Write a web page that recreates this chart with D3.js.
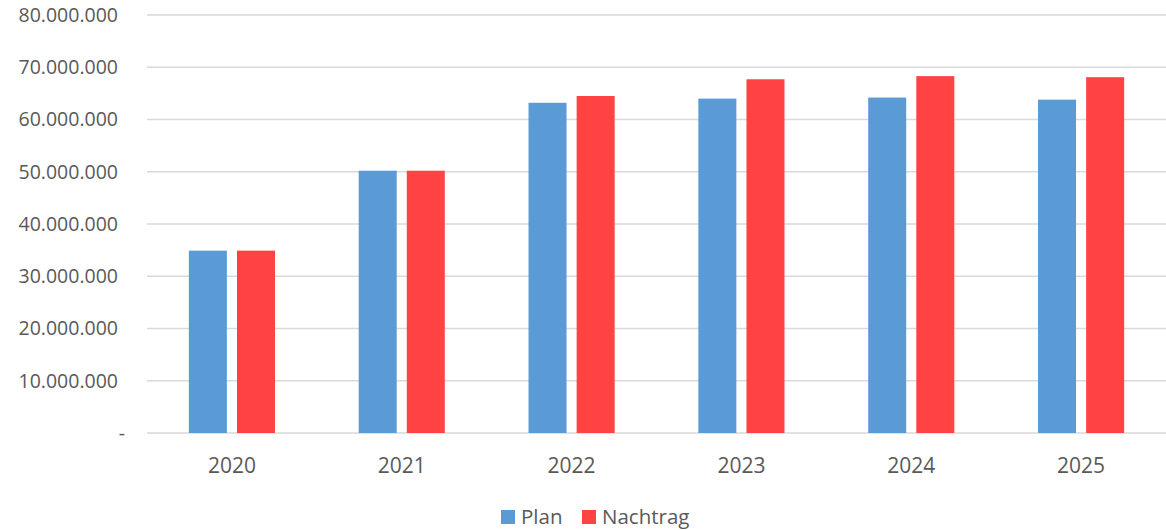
<!DOCTYPE html>
<html>
<head>
<meta charset="utf-8">
<script src="https://cdn.jsdelivr.net/npm/d3@7"></script>
<style>
  body { margin: 0; background: #fff; }
  text { font-family: "Open Sans", sans-serif; fill: #595959; }
</style>
</head>
<body>
<div id="chart"></div>
<script>
// data
const years = ["2020", "2021", "2022", "2023", "2024", "2025"];
const series = ["Plan", "Nachtrag"];
const plan = [34900000, 50200000, 63200000, 64000000, 64200000, 63800000];
const nachtrag = [34900000, 50200000, 64500000, 67700000, 68300000, 68100000];
const yTicks = [0, 10000000, 20000000, 30000000, 40000000, 50000000, 60000000, 70000000, 80000000];
const colors = ["#5B9BD5", "#FF4343"];

const W = 1166, H = 530;
const margin = {top: 15, right: 0, bottom: 97, left: 147};
const width = W - margin.left - margin.right;
const height = H - margin.top - margin.bottom;

const svg = d3.select("#chart").append("svg")
  .attr("width", W).attr("height", H);

const g = svg.append("g")
  .attr("transform", `translate(${margin.left},${margin.top})`);

const y = d3.scaleLinear().domain([0, 80000000]).range([height, 0]);
const x0 = d3.scaleBand().domain(years).range([0, width]);
const x1 = d3.scaleBand().domain(series).range([0, x0.bandwidth()])
  .paddingInner(0.21).paddingOuter(0.87);
const color = d3.scaleOrdinal().domain(series).range(colors);

const de = d3.formatLocale({decimal: ",", thousands: ".", grouping: [3], currency: ["", " €"]});
const fmt = v => v === 0 ? "-" : de.format(",")(v);

// gridlines
g.selectAll(".grid").data(yTicks).enter().append("line")
  .attr("x1", 0).attr("x2", width)
  .attr("y1", d => y(d)).attr("y2", d => y(d))
  .attr("stroke", "#d9d9d9").attr("stroke-width", 1.5);

// y labels
g.selectAll(".ylab").data(yTicks).enter().append("text")
  .attr("x", d => d === 0 ? -22 : -29)
  .attr("y", d => y(d))
  .attr("dy", "0.35em")
  .attr("text-anchor", "end")
  .style("font-size", "19.5px")
  .text(fmt);

// bars
const rows = years.map((yr, i) => ({year: yr, vals: [plan[i], nachtrag[i]]}));
const grp = g.selectAll(".yr").data(rows).enter().append("g")
  .attr("transform", d => `translate(${x0(d.year)},0)`);
grp.selectAll("rect").data(d => series.map((s, j) => ({s, v: d.vals[j]}))).enter().append("rect")
  .attr("x", d => x1(d.s))
  .attr("width", x1.bandwidth())
  .attr("y", d => y(d.v))
  .attr("height", d => height - y(d.v))
  .attr("fill", d => color(d.s));

// x labels
g.selectAll(".xlab").data(years).enter().append("text")
  .attr("x", d => x0(d) + x0.bandwidth() / 2)
  .attr("y", height + 40)
  .attr("text-anchor", "middle")
  .style("font-size", "21px")
  .text(d => d);

// legend
const legX = [501, 582];
const leg = svg.selectAll(".leg").data(series).enter().append("g")
  .attr("transform", (d, i) => `translate(${legX[i]},510)`);
leg.append("rect").attr("width", 14).attr("height", 14).attr("fill", d => color(d));
leg.append("text").attr("x", 20).attr("y", 7).attr("dy", "0.35em")
  .style("font-size", "20.5px").text(d => d);
</script>
</body>
</html>
